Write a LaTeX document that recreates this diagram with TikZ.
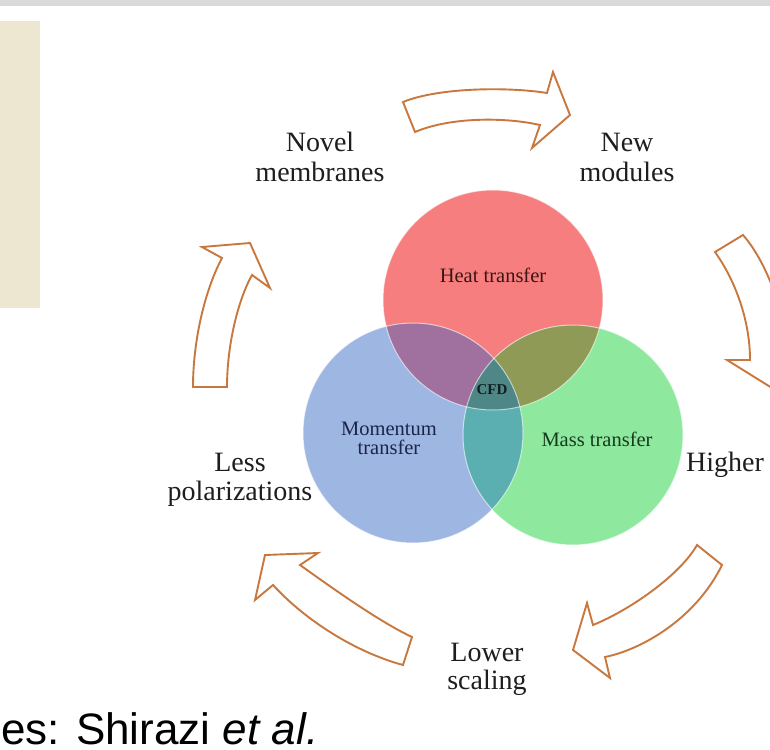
\documentclass[tikz,border=0pt]{standalone}
\usepackage{fontspec}
\setmainfont{Liberation Serif}
\newfontfamily\captionfont{Liberation Sans}
\definecolor{bandgray}{HTML}{D9D9D9}
\definecolor{sidebeige}{HTML}{EDE6D0}
\definecolor{arrowc}{HTML}{C8783E}
\definecolor{labelc}{HTML}{1E1E1E}
\definecolor{heatc}{HTML}{F67E7E}
\definecolor{momc}{HTML}{9EB6E2}
\definecolor{massc}{HTML}{8EE89E}
\definecolor{heatmomc}{HTML}{A0709E}
\definecolor{heatmassc}{HTML}{8E9A55}
\definecolor{mommassc}{HTML}{5BAFB0}
\definecolor{cfdc}{HTML}{4F8686}
\definecolor{heattxt}{HTML}{3B1414}
\definecolor{momtxt}{HTML}{1B2548}
\definecolor{masstxt}{HTML}{173A1F}
\definecolor{cfdtxt}{HTML}{102020}
\tikzset{
  cyclearrow/.style={draw=arrowc, fill=white, line width=1.9pt, line join=miter},
  outerlabel/.style={font=\fontsize{28}{30}\selectfont, text=labelc, inner sep=0pt, anchor=base},
  innerlabel/.style={font=\fontsize{20.5}{22}\selectfont, inner sep=0pt, anchor=base},
  rim/.style={draw=white, draw opacity=0.6, line width=1pt},
}
\begin{document}
\begin{tikzpicture}[x=1pt,y=-1pt]
  % canvas
  \clip (0,0) rectangle (770,749);
  \fill[white] (0,0) rectangle (770,749);
  \fill[bandgray] (0,0) rectangle (770,6.5);
  \fill[sidebeige] (0,21) rectangle (40,308);

  % Venn diagram
  \coordinate (heat) at (493,300);
  \coordinate (mom)  at (413,433);
  \coordinate (mass) at (573,435);
  \def\rr{110}
  \fill[heatc] (heat) circle[radius=\rr];
  \fill[momc]  (mom)  circle[radius=\rr];
  \fill[massc] (mass) circle[radius=\rr];
  \begin{scope}
    \clip (heat) circle[radius=\rr];
    \fill[heatmomc] (mom) circle[radius=\rr];
    \fill[heatmassc] (mass) circle[radius=\rr];
  \end{scope}
  \begin{scope}
    \clip (mom) circle[radius=\rr];
    \fill[mommassc] (mass) circle[radius=\rr];
  \end{scope}
  \begin{scope}
    \clip (heat) circle[radius=\rr];
    \clip (mom) circle[radius=\rr];
    \fill[cfdc] (mass) circle[radius=\rr];
  \end{scope}
  \draw[rim] (heat) circle[radius=\rr];
  \draw[rim] (mom) circle[radius=\rr];
  \draw[rim] (mass) circle[radius=\rr];

  \node[innerlabel, text=heattxt] (heatlbl) at (493,282) {Heat transfer};
  \node[innerlabel, text=momtxt] (momlbl1) at (389,435) {Momentum};
  \node[innerlabel, text=momtxt] (momlbl2) at (389,454) {transfer};
  \node[innerlabel, text=masstxt] (masslbl) at (597,446) {Mass transfer};
  \node[inner sep=0pt, anchor=base, text=cfdtxt, font=\fontsize{15}{17}\selectfont\bfseries] (cfd) at (492,394) {CFD};

  % cycle arrows
  \draw[cyclearrow] (403,102) .. controls (440,87) and (510,87) .. (547,93)
    -- (553,72) -- (570,115) -- (532,148) -- (540,125)
    .. controls (505,117) and (450,117) .. (415,132) -- cycle;
  \draw[cyclearrow] (715,252) .. controls (735,280) and (750,320) .. (750,360)
    -- (727,360) -- (772,388) -- (805,330) -- (783,343)
    .. controls (785,310) and (765,260) .. (743,235) -- cycle;
  \draw[cyclearrow] (697,545) .. controls (680,575) and (630,610) .. (593,625)
    -- (587,603) -- (573,650) -- (610,678) -- (605,657)
    .. controls (640,650) and (695,620) .. (722,565) -- cycle;
  \draw[cyclearrow] (412,637) .. controls (380,622) and (335,590) .. (300,565)
    -- (318,553) -- (265,555) -- (255,600) -- (273,585)
    .. controls (305,620) and (355,652) .. (403,665) -- cycle;
  \draw[cyclearrow] (193,387) .. controls (193,340) and (205,290) .. (222,258)
    -- (202,247) -- (250,243) -- (270,288) -- (252,275)
    .. controls (238,300) and (227,345) .. (227,387) -- cycle;

  % outer labels
  \node[outerlabel] (novel1) at (320,151) {Novel};
  \node[outerlabel] (novel2) at (320,181) {membranes};
  \node[outerlabel] (new1) at (627,151) {New};
  \node[outerlabel] (new2) at (627,181) {modules};
  \node[outerlabel, anchor=base west] (higher) at (686,471) {Higher};
  \node[outerlabel] (lower1) at (487,661) {Lower};
  \node[outerlabel] (lower2) at (487,689) {scaling};
  \node[outerlabel] (less1) at (240,471) {Less};
  \node[outerlabel] (less2) at (240,500) {polarizations};

  % source line
  \node[inner sep=0pt, anchor=base west, font=\captionfont\fontsize{44}{48}\selectfont] (source) at (1,744) {es: Shirazi \textit{et al.}};
\end{tikzpicture}
\end{document}
